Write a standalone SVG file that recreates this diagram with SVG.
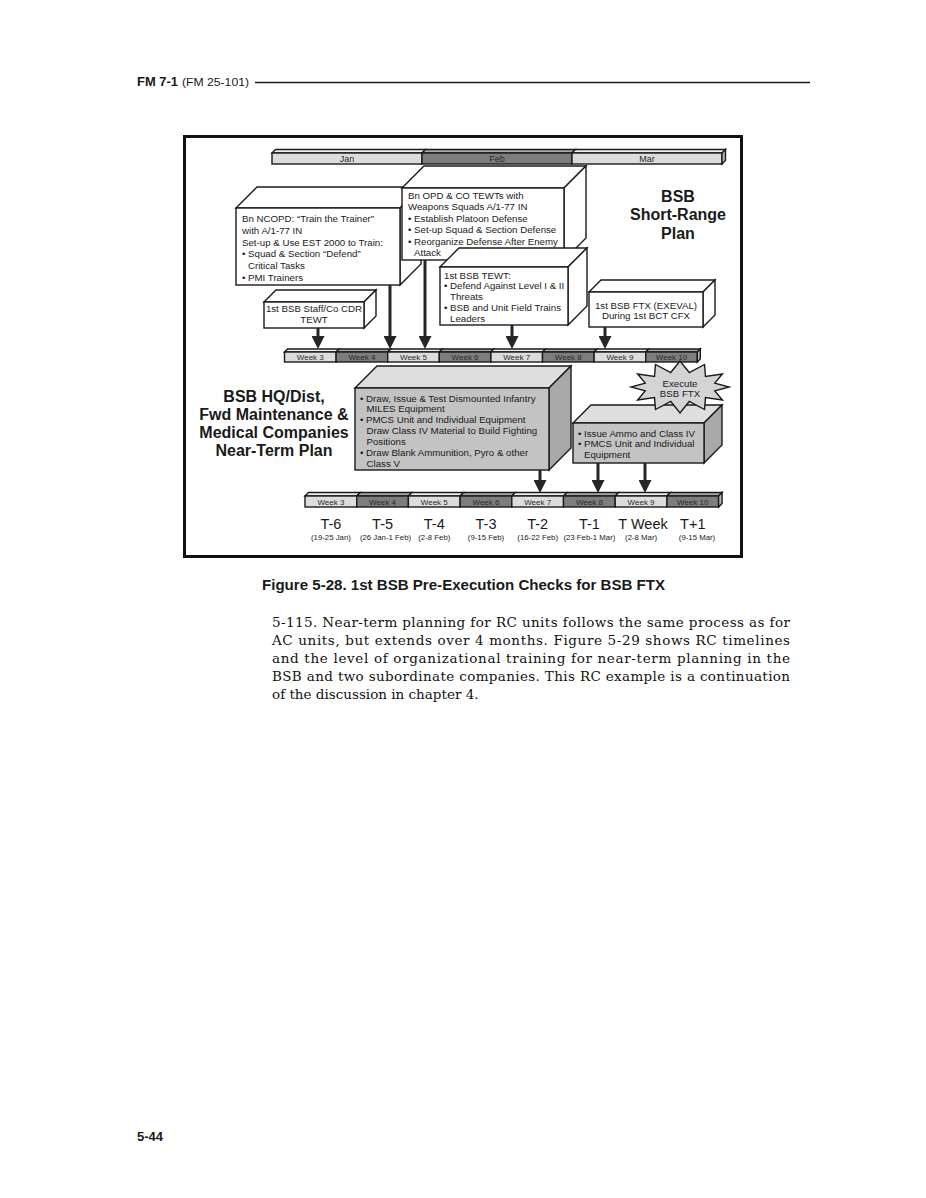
<svg xmlns="http://www.w3.org/2000/svg" width="926" height="1198" viewBox="0 0 926 1198">
<style>
text{font-family:"Liberation Sans",Arial,Helvetica,sans-serif;fill:#1a1a1a}
.bx{font-size:9.7px}
.c{text-anchor:middle}
.mo{font-size:9px;text-anchor:middle;fill:#2a2a2a}
.wk{font-size:8px;text-anchor:middle;fill:#2a2a2a}
.h{font-size:16px;font-weight:bold;text-anchor:middle}
.ln{stroke:#1a1a1a;stroke-width:1.4;stroke-linejoin:miter}
.w{fill:#fff}
.gf{fill:#c3c3c3}.gt{fill:#dedede}.gs{fill:#a8a8a8}
.l{fill:#dcdcdc}.lt{fill:#f0f0f0}.d{fill:#7d7d7d}.dt{fill:#a8a8a8}.e{fill:#b5b5b5}
.arr{stroke:#262626;stroke-width:3;fill:none;marker-end:url(#ah)}
.tl{font-size:14.5px;text-anchor:middle}
.sub{font-size:7.8px;text-anchor:middle}
text.para{font-family:"DejaVu Serif","Liberation Serif",serif;font-size:13.5px;fill:#111}
</style>
<defs>
<marker id="ah" markerUnits="userSpaceOnUse" markerWidth="13" markerHeight="13" viewBox="0 0 13 13" refX="1" refY="6.5" orient="auto"><path d="M0,0L13,6.5L0,13z" fill="#262626"/></marker>
</defs>
<rect x="0" y="0" width="926" height="1198" fill="#fff"/>

<g id="header">
<text x="137" y="86" font-size="12" font-weight="bold" textLength="41" lengthAdjust="spacingAndGlyphs">FM 7-1</text>
<text x="182" y="86" font-size="11" textLength="67" lengthAdjust="spacingAndGlyphs">(FM 25-101)</text>
<line x1="255" y1="82.5" x2="810" y2="82.5" stroke="#1a1a1a" stroke-width="1.3"/>
</g>

<rect id="frame" x="184.5" y="136.5" width="557" height="420" fill="none" stroke="#111" stroke-width="3"/>

<g id="month-bar" class="ln">
<polygon class="lt" points="272,153 275.5,149.5 425.5,149.5 422,153"/>
<polygon class="dt" points="422,153 425.5,149.5 575.5,149.5 572,153"/>
<polygon class="lt" points="572,153 575.5,149.5 725.5,149.5 722,153"/>
<rect class="l" x="272" y="153" width="150" height="11"/>
<rect class="d" x="422" y="153" width="150" height="11"/>
<rect class="l" x="572" y="153" width="150" height="11"/>
<polygon class="e" points="722,153 725.5,149.5 725.5,160.5 722,164"/>
</g>
<g id="month-labels">
<text class="mo" x="347" y="161.8">Jan</text>
<text class="mo" x="497" y="161.8">Feb</text>
<text class="mo" x="647" y="161.8">Mar</text>
</g>

<g id="box-ncopd" class="ln">
<polygon class="w" points="236,208 257,187 421,187 400,208"/>
<polygon class="w" points="400,208 421,187 421,264 400,285"/>
<rect class="w" x="236" y="208" width="164" height="77"/>
<g class="bx" stroke="none">
<text x="242" y="222">Bn NCOPD: “Train the Trainer”</text>
<text x="242" y="233.8">with A/1-77 IN</text>
<text x="242" y="245.6">Set-up &amp; Use EST 2000 to Train:</text>
<text x="242" y="257.4">• Squad &amp; Section “Defend”</text>
<text x="248" y="269.2">Critical Tasks</text>
<text x="242" y="281">• PMI Trainers</text>
</g>
</g>

<g id="box-opd" class="ln">
<polygon class="w" points="402,188 424,166 586,166 564,188"/>
<polygon class="w" points="564,188 586,166 586,238 564,260"/>
<rect class="w" x="402" y="188" width="162" height="72"/>
<g class="bx" stroke="none">
<text x="408" y="199">Bn OPD &amp; CO TEWTs with</text>
<text x="408" y="210.4">Weapons Squads A/1-77 IN</text>
<text x="408" y="221.8">• Establish Platoon Defense</text>
<text x="408" y="233.2">• Set-up Squad &amp; Section Defense</text>
<text x="408" y="244.6">• Reorganize Defense After Enemy</text>
<text x="414" y="256">Attack</text>
</g>
</g>

<g id="box-staff" class="ln">
<polygon class="w" points="264,302 276,290 376,290 364,302"/>
<polygon class="w" points="364,302 376,290 376,316 364,328"/>
<rect class="w" x="264" y="302" width="100" height="26"/>
<g class="bx c" stroke="none">
<text x="314" y="311.8">1st BSB Staff/Co CDR</text>
<text x="314" y="323.3">TEWT</text>
</g>
</g>

<g id="box-tewt" class="ln">
<polygon class="w" points="440,267 459,248 587,248 568,267"/>
<polygon class="w" points="568,267 587,248 587,306 568,325"/>
<rect class="w" x="440" y="267" width="128" height="58"/>
<g class="bx" stroke="none">
<text x="444" y="278.5">1st BSB TEWT:</text>
<text x="444" y="289.3">• Defend Against Level I &amp; II</text>
<text x="450" y="300.1">Threats</text>
<text x="444" y="310.9">• BSB and Unit Field Trains</text>
<text x="450" y="321.7">Leaders</text>
</g>
</g>

<g id="box-ftx" class="ln">
<polygon class="w" points="589,292 601,280 715,280 703,292"/>
<polygon class="w" points="703,292 715,280 715,315 703,327"/>
<rect class="w" x="589" y="292" width="114" height="35"/>
<g class="bx c" stroke="none">
<text x="646" y="308.5">1st BSB FTX (EXEVAL)</text>
<text x="646" y="319.2">During 1st BCT CFX</text>
</g>
</g>

<g id="title-short-range" class="h">
<text x="678" y="201.8">BSB</text>
<text x="678" y="220.3">Short-Range</text>
<text x="678" y="238.8">Plan</text>
</g>

<g id="week-bar-1" class="ln">
<polygon class="lt" points="284.5,352 287.5,349 339.1,349 336.1,352"/>
<polygon class="dt" points="336.1,352 339.1,349 390.7,349 387.7,352"/>
<polygon class="lt" points="387.7,352 390.7,349 442.3,349 439.3,352"/>
<polygon class="dt" points="439.3,352 442.3,349 493.9,349 490.9,352"/>
<polygon class="lt" points="490.9,352 493.9,349 545.5,349 542.5,352"/>
<polygon class="dt" points="542.5,352 545.5,349 597.1,349 594.1,352"/>
<polygon class="lt" points="594.1,352 597.1,349 648.7,349 645.7,352"/>
<polygon class="dt" points="645.7,352 648.7,349 700.3,349 697.3,352"/>
<rect class="l" x="284.5" y="352" width="51.6" height="10"/>
<rect class="d" x="336.1" y="352" width="51.6" height="10"/>
<rect class="l" x="387.7" y="352" width="51.6" height="10"/>
<rect class="d" x="439.3" y="352" width="51.6" height="10"/>
<rect class="l" x="490.9" y="352" width="51.6" height="10"/>
<rect class="d" x="542.5" y="352" width="51.6" height="10"/>
<rect class="l" x="594.1" y="352" width="51.6" height="10"/>
<rect class="d" x="645.7" y="352" width="51.6" height="10"/>
<polygon class="e" points="697.3,352 700.3,349 700.3,359 697.3,362"/>
</g>
<g id="week-bar-1-labels">
<text class="wk" x="310.3" y="360">Week 3</text>
<text class="wk" x="361.9" y="360">Week 4</text>
<text class="wk" x="413.5" y="360">Week 5</text>
<text class="wk" x="465.1" y="360">Week 6</text>
<text class="wk" x="516.7" y="360">Week 7</text>
<text class="wk" x="568.3" y="360">Week 8</text>
<text class="wk" x="619.9" y="360">Week 9</text>
<text class="wk" x="671.5" y="360">Week 10</text>
</g>

<g id="title-near-term" class="h">
<text x="274" y="401.8">BSB HQ/Dist,</text>
<text x="274" y="419.8">Fwd Maintenance &amp;</text>
<text x="274" y="437.8">Medical Companies</text>
<text x="274" y="455.8">Near-Term Plan</text>
</g>

<g id="box-draw" class="ln">
<polygon class="gt" points="355,388 377,366 571,366 549,388"/>
<polygon class="gs" points="549,388 571,366 571,448 549,470"/>
<rect class="gf" x="355" y="388" width="194" height="82"/>
<g class="bx" stroke="none">
<text x="360" y="401.5">• Draw, Issue &amp; Test Dismounted Infantry</text>
<text x="366.5" y="412.4">MILES Equipment</text>
<text x="360" y="423.3">• PMCS Unit and Individual Equipment</text>
<text x="366.5" y="434.2">Draw Class IV Material to Build Fighting</text>
<text x="366.5" y="445.1">Positions</text>
<text x="360" y="456">• Draw Blank Ammunition, Pyro &amp; other</text>
<text x="366.5" y="466.9">Class V</text>
</g>
</g>

<g id="box-ammo" class="ln">
<polygon class="gt" points="573,423 591,405 722,405 704,423"/>
<polygon class="gs" points="704,423 722,405 722,445 704,463"/>
<rect class="gf" x="573" y="423" width="131" height="40"/>
<g class="bx" stroke="none">
<text x="578" y="436.5">• Issue Ammo and Class IV</text>
<text x="578" y="447.3">• PMCS Unit and Individual</text>
<text x="584" y="458.1">Equipment</text>
</g>
</g>

<g id="star-execute">
<polygon class="ln" fill="#d4d4d4" points="729,387 714.8,390.9 722.4,400 705.5,397.6 704.5,409.5 689.3,401.5 680,413 670.7,401.5 655.5,409.5 654.5,397.6 637.6,400 645.2,390.9 631,387 645.2,383.1 637.6,374 654.5,376.4 655.5,364.5 670.7,372.5 680,361 689.3,372.5 704.5,364.5 705.5,376.4 722.4,374 714.8,383.1"/>
<text class="bx c" x="680" y="386.5">Execute</text>
<text class="bx c" x="680" y="397">BSB FTX</text>
</g>

<g id="week-bar-2" class="ln">
<polygon class="lt" points="305,496 308.5,492.5 360.2,492.5 356.7,496"/>
<polygon class="dt" points="356.7,496 360.2,492.5 411.9,492.5 408.4,496"/>
<polygon class="lt" points="408.4,496 411.9,492.5 463.6,492.5 460.1,496"/>
<polygon class="dt" points="460.1,496 463.6,492.5 515.3,492.5 511.8,496"/>
<polygon class="lt" points="511.8,496 515.3,492.5 567,492.5 563.5,496"/>
<polygon class="dt" points="563.5,496 567,492.5 618.7,492.5 615.2,496"/>
<polygon class="lt" points="615.2,496 618.7,492.5 670.4,492.5 666.9,496"/>
<polygon class="dt" points="666.9,496 670.4,492.5 722.1,492.5 718.6,496"/>
<rect class="l" x="305" y="496" width="51.7" height="11"/>
<rect class="d" x="356.7" y="496" width="51.7" height="11"/>
<rect class="l" x="408.4" y="496" width="51.7" height="11"/>
<rect class="d" x="460.1" y="496" width="51.7" height="11"/>
<rect class="l" x="511.8" y="496" width="51.7" height="11"/>
<rect class="d" x="563.5" y="496" width="51.7" height="11"/>
<rect class="l" x="615.2" y="496" width="51.7" height="11"/>
<rect class="d" x="666.9" y="496" width="51.7" height="11"/>
<polygon class="e" points="718.6,496 722.1,492.5 722.1,503.5 718.6,507"/>
</g>
<g id="week-bar-2-labels">
<text class="wk" x="330.9" y="504.6">Week 3</text>
<text class="wk" x="382.6" y="504.6">Week 4</text>
<text class="wk" x="434.3" y="504.6">Week 5</text>
<text class="wk" x="486" y="504.6">Week 6</text>
<text class="wk" x="537.7" y="504.6">Week 7</text>
<text class="wk" x="589.4" y="504.6">Week 8</text>
<text class="wk" x="641.1" y="504.6">Week 9</text>
<text class="wk" x="692.8" y="504.6">Week 10</text>
</g>

<g id="connectors">
<line class="arr" x1="318" y1="328" x2="318" y2="337"/>
<line class="arr" x1="390" y1="285" x2="390" y2="337"/>
<line class="arr" x1="425" y1="260" x2="425" y2="337"/>
<line class="arr" x1="512" y1="325" x2="512" y2="337"/>
<line class="arr" x1="605" y1="327" x2="605" y2="337"/>
<line class="arr" x1="540" y1="470" x2="540" y2="481"/>
<line class="arr" x1="598" y1="463" x2="598" y2="481"/>
<line class="arr" x1="645" y1="463" x2="645" y2="481"/>
</g>

<g id="t-labels">
<text class="tl" x="330.9" y="528.5">T-6</text>
<text class="tl" x="382.6" y="528.5">T-5</text>
<text class="tl" x="434.3" y="528.5">T-4</text>
<text class="tl" x="486" y="528.5">T-3</text>
<text class="tl" x="537.7" y="528.5">T-2</text>
<text class="tl" x="589.4" y="528.5">T-1</text>
<text class="tl" x="643" y="528.5">T Week</text>
<text class="tl" x="692.8" y="528.5">T+1</text>
<text class="sub" x="330.9" y="540">(19-25 Jan)</text>
<text class="sub" x="385.5" y="540">(26 Jan-1 Feb)</text>
<text class="sub" x="434.3" y="540">(2-8 Feb)</text>
<text class="sub" x="486" y="540">(9-15 Feb)</text>
<text class="sub" x="537.7" y="540">(16-22 Feb)</text>
<text class="sub" x="589.4" y="540">(23 Feb-1 Mar)</text>
<text class="sub" x="641.1" y="540">(2-8 Mar)</text>
<text class="sub" x="697" y="540">(9-15 Mar)</text>
</g>

<text id="caption" x="262" y="590" font-size="14.5" font-weight="bold" textLength="403" lengthAdjust="spacingAndGlyphs">Figure 5-28. 1st BSB Pre-Execution Checks for BSB FTX</text>

<g id="paragraph">
<text class="para" x="272" y="626.5" textLength="518" lengthAdjust="spacing">5-115.  Near-term planning for RC units follows the same process as for</text>
<text class="para" x="272" y="644.5" textLength="518" lengthAdjust="spacing">AC units, but extends over 4 months. Figure 5-29 shows RC timelines</text>
<text class="para" x="272" y="662.5" textLength="518" lengthAdjust="spacing">and the level of organizational training for near-term planning in the</text>
<text class="para" x="272" y="680.5" textLength="518" lengthAdjust="spacing">BSB and two subordinate companies. This RC example is a continuation</text>
<text class="para" x="272" y="698.5">of the discussion in chapter 4.</text>
</g>

<text id="page-number" x="137" y="1141" font-size="12" font-weight="bold" textLength="26" lengthAdjust="spacingAndGlyphs">5-44</text>
</svg>
